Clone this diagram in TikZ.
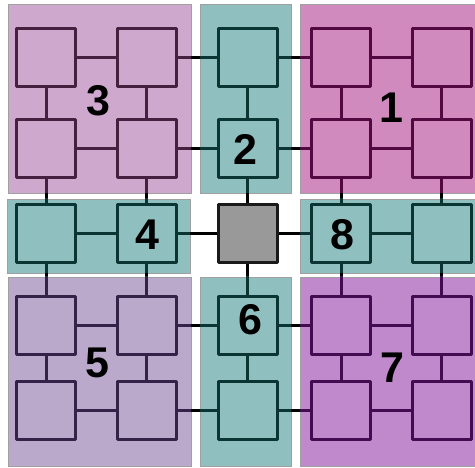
\documentclass[tikz,border=0pt]{standalone}
\usepackage{fontspec}
\setmainfont{Liberation Sans}
\definecolor{bgA}{HTML}{CFA9CD}
\definecolor{bgT}{HTML}{8FC0BF}
\definecolor{bgB}{HTML}{D08ABD}
\definecolor{bgC}{HTML}{BBA9CC}
\definecolor{bgD}{HTML}{BF89CB}
\definecolor{bgG}{HTML}{999999}
\definecolor{dkA}{HTML}{45203F}
\definecolor{dkT}{HTML}{0A3533}
\definecolor{dkB}{HTML}{520840}
\definecolor{dkC}{HTML}{352248}
\definecolor{dkD}{HTML}{420C52}
\definecolor{dkG}{HTML}{1A1A1A}
\definecolor{edgeG}{HTML}{A0A0A0}
\tikzset{
  blockbox/.style={draw=edgeG, line width=0.8pt},
  sq/.style={line width=3pt, minimum width=59pt, minimum height=58pt, inner sep=0pt, line join=round},
  sqA/.style={sq, fill=bgA, draw=dkA},
  sqT/.style={sq, fill=bgT, draw=dkT},
  sqB/.style={sq, fill=bgB, draw=dkB},
  sqC/.style={sq, fill=bgC, draw=dkC},
  sqD/.style={sq, fill=bgD, draw=dkD},
  sqG/.style={sq, fill=bgG, draw=dkG},
  conn/.style={line width=3pt},
  lbl/.style={inner sep=0pt, font=\fontsize{43}{43}\selectfont\bfseries}
}
\newcommand\myedges[1]{%
  \draw[conn,#1] foreach \r in {1,...,5} { foreach \c/\d in {1/2,2/3,3/4,4/5} { (n\c\r) -- (n\d\r) } };
  \draw[conn,#1] foreach \c in {1,...,5} { foreach \r/\s in {1/2,2/3,3/4,4/5} { (n\c\r) -- (n\c\s) } };
}
\begin{document}
\begin{tikzpicture}[x=1pt,y=-1pt]
\useasboundingbox (0,0) rectangle (475,468);
\fill[white] (0,0) rectangle (475,468);
% blocks
\path[blockbox, fill=bgA] (8,4) rectangle (191,193);
\path[blockbox, fill=bgT] (200,4) rectangle (291,193);
\path[blockbox, fill=bgB] (300,4) rectangle (486,193);
\path[blockbox, fill=bgT] (7,199) rectangle (190,273);
\path[blockbox, fill=bgT] (300,199) rectangle (486,273);
\path[blockbox, fill=bgC] (8,277) rectangle (191,466);
\path[blockbox, fill=bgT] (200,277) rectangle (291,466);
\path[blockbox, fill=bgD] (300,277) rectangle (486,466);
% squares
\node[sqA] (n11) at (46,57.5) {};
\node[sqA] (n21) at (146.5,57.5) {};
\node[sqT] (n31) at (247.5,57.5) {};
\node[sqB] (n41) at (341,57.5) {};
\node[sqB] (n51) at (441.5,57.5) {};
\node[sqA] (n12) at (46,149) {};
\node[sqA] (n22) at (146.5,149) {};
\node[sqT] (n32) at (247.5,149) {};
\node[sqB] (n42) at (341,149) {};
\node[sqB] (n52) at (441.5,149) {};
\node[sqT] (n13) at (46,234) {};
\node[sqT] (n23) at (146.5,234) {};
\node[sqG] (n33) at (247.5,234) {};
\node[sqT] (n43) at (341,234) {};
\node[sqT] (n53) at (441.5,234) {};
\node[sqC] (n14) at (46,325.5) {};
\node[sqC] (n24) at (146.5,325.5) {};
\node[sqT] (n34) at (247.5,325.5) {};
\node[sqD] (n44) at (341,325.5) {};
\node[sqD] (n54) at (441.5,325.5) {};
\node[sqC] (n15) at (46,411) {};
\node[sqC] (n25) at (146.5,411) {};
\node[sqT] (n35) at (247.5,411) {};
\node[sqD] (n45) at (341,411) {};
\node[sqD] (n55) at (441.5,411) {};
% connectors: black in gaps, block colour inside blocks
\myedges{black}
\begin{scope}\clip (8,4) rectangle (191,193); \myedges{dkA}\end{scope}
\begin{scope}\clip (200,4) rectangle (291,193); \myedges{dkT}\end{scope}
\begin{scope}\clip (300,4) rectangle (486,193); \myedges{dkB}\end{scope}
\begin{scope}\clip (7,199) rectangle (190,273); \myedges{dkT}\end{scope}
\begin{scope}\clip (300,199) rectangle (486,273); \myedges{dkT}\end{scope}
\begin{scope}\clip (8,277) rectangle (191,466); \myedges{dkC}\end{scope}
\begin{scope}\clip (200,277) rectangle (291,466); \myedges{dkT}\end{scope}
\begin{scope}\clip (300,277) rectangle (486,466); \myedges{dkD}\end{scope}
% labels
\node[lbl] (l3) at (98,101) {3};
\node[lbl] (l1) at (391,108) {1};
\node[lbl] (l2) at (245.5,149.5) {2};
\node[lbl] (l4) at (147,235) {4};
\node[lbl] (l8) at (342,235) {8};
\node[lbl] (l6) at (250,320) {6};
\node[lbl] (l5) at (97.5,362.5) {5};
\node[lbl] (l7) at (392,368) {7};
\end{tikzpicture}
\end{document}
